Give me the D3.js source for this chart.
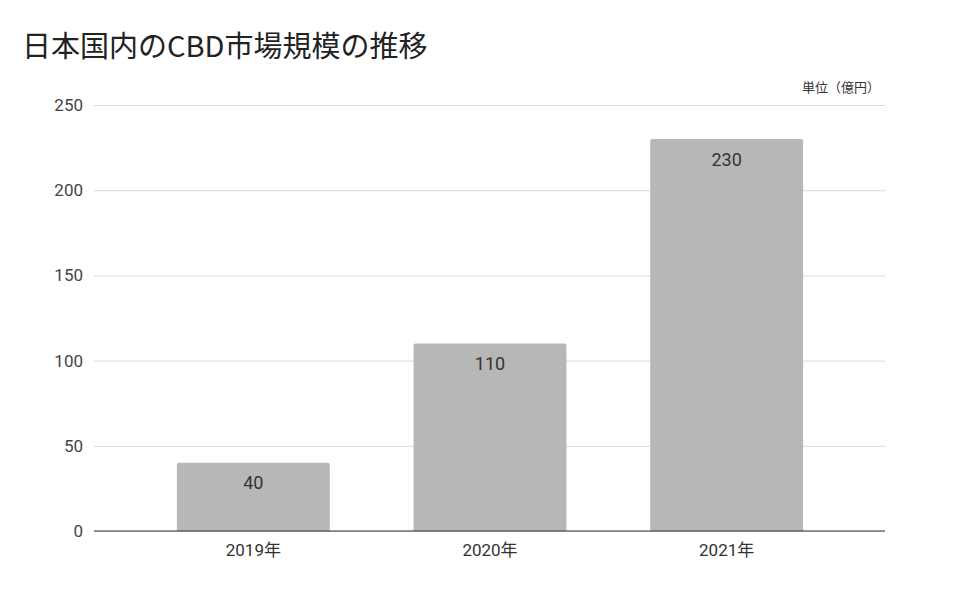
<!DOCTYPE html>
<html><head><meta charset="utf-8">
<script src="https://cdn.jsdelivr.net/npm/d3@7"></script>
<style>body{margin:0;background:#fff;} svg{display:block;}</style>
</head><body>
<svg id="c" width="970" height="600"></svg>
<script>
const categories = ["2019年", "2020年", "2021年"];
const values = [40, 110, 230];
const yTicks = [0, 50, 100, 150, 200, 250];
const title = "日本国内のCBD市場規模の推移";
const unitLabel = "単位（億円）";

(function () {
const svg = d3.select("#c");
const font = "Roboto, 'Noto Sans CJK JP', sans-serif";
const mLeft = 94, mRight = 885, mTop = 105, mBottom = 531;

const y = d3.scaleLinear().domain([0, 250]).range([mBottom, mTop]);
const x = d3.scaleBand().domain(categories).range([135, 845]).paddingInner(0.354).paddingOuter(0.177);

svg.append("rect").attr("width", 970).attr("height", 600).attr("fill", "#fff");

svg.append("text").attr("x", 22).attr("y", 57).text(title)
  .attr("font-family", "'Noto Sans CJK JP', sans-serif").attr("font-size", 29).attr("fill", "#222");

svg.append("text").attr("x", 880).attr("y", 92).attr("text-anchor", "end").text(unitLabel)
  .attr("font-family", "'Noto Sans CJK JP', sans-serif").attr("font-size", 13).attr("fill", "#333");

// gridlines
const yAxis = d3.axisLeft(y).tickValues(yTicks).tickSize(-(mRight - mLeft)).tickPadding(11);
const gy = svg.append("g").attr("transform", `translate(${mLeft},0)`).call(yAxis);
gy.select(".domain").remove();
gy.selectAll(".tick line").attr("stroke", "#d9d9d9").attr("stroke-width", 1);
gy.selectAll(".tick text").attr("font-family", font).attr("font-size", 17).attr("fill", "#444");

// bars
const r = 2;
svg.append("g").selectAll("path").data(values).join("path")
  .attr("d", (d, i) => {
    const x0 = x(categories[i]), w = x.bandwidth(), y0 = y(d), yb = y(0);
    return `M${x0},${yb}V${y0 + r}Q${x0},${y0} ${x0 + r},${y0}H${x0 + w - r}Q${x0 + w},${y0} ${x0 + w},${y0 + r}V${yb}Z`;
  })
  .attr("fill", "#b7b7b7");

// value labels
svg.append("g").selectAll("text").data(values).join("text")
  .attr("x", (d, i) => x(categories[i]) + x.bandwidth() / 2)
  .attr("y", d => y(d) + 26.5)
  .attr("text-anchor", "middle").text(d => d)
  .attr("font-family", font).attr("font-size", 18).attr("fill", "#333");

// x axis
const xAxis = d3.axisBottom(x).tickSize(0).tickPadding(13);
const gx = svg.append("g").attr("transform", `translate(0,${mBottom})`).call(xAxis);
gx.select(".domain").remove();
gx.selectAll(".tick text").attr("font-family", font).attr("font-size", 17).attr("fill", "#333");
svg.append("line").attr("x1", mLeft).attr("x2", mRight).attr("y1", y(0)).attr("y2", y(0))
  .attr("stroke", "#333").attr("stroke-width", 1.2);
})();
</script>
</body></html>
